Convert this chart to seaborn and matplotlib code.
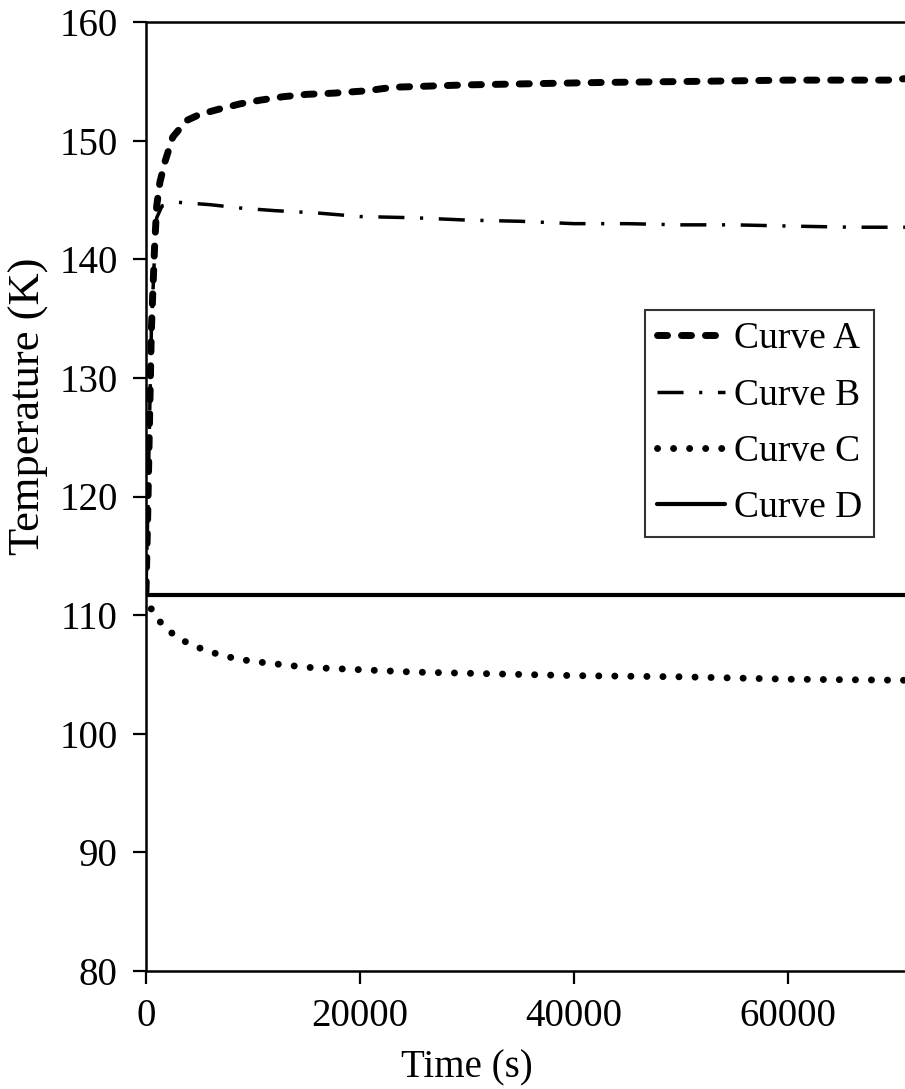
import matplotlib
matplotlib.use("Agg")
import matplotlib.pyplot as plt
import seaborn as sns
import numpy as np

# Temperature histories (time in s, temperature in K)
time_a = [0, 150, 300, 500, 800, 1000, 1300, 1800, 2500, 3800, 5000, 6600, 8800,
          10600, 12800, 15000, 17500, 20600, 23100, 30000, 42400, 51800, 60000, 69300, 72000]
temp_a = [112.0, 118.0, 125.0, 134.0, 141.0, 144.5, 146.5, 148.3, 150.3, 151.7, 152.2, 152.6, 153.1,
          153.4, 153.7, 153.9, 154.0, 154.2, 154.5, 154.7, 154.9, 155.0, 155.1, 155.1, 155.3]

time_b = [0, 150, 300, 500, 800, 1000, 1500, 3000, 6000, 9000, 12000, 16000, 20000,
          25000, 30000, 35000, 40000, 45000, 50000, 55000, 60000, 66000, 72000]
temp_b = [112.0, 118.0, 125.0, 134.0, 140.5, 143.5, 144.5, 144.8, 144.6, 144.3, 144.1, 143.9, 143.6,
          143.5, 143.3, 143.2, 143.0, 143.0, 142.9, 142.9, 142.8, 142.7, 142.7]

time_c = [0, 370, 1000, 1800, 3000, 4200, 5700, 7100, 8600, 10000, 12000, 15000, 20000,
          25000, 30000, 40000, 50000, 60000, 72000]
temp_c = [111.8, 110.7, 109.8, 108.9, 108.1, 107.5, 107.0, 106.6, 106.3, 106.1, 105.9, 105.6, 105.4,
          105.2, 105.1, 104.9, 104.8, 104.6, 104.5]

time_d = [0, 72000]
temp_d = [111.7, 111.7]

labels = ["Curve A", "Curve B", "Curve C", "Curve D"]
y_ticks = [80, 90, 100, 110, 120, 130, 140, 150, 160]
x_ticks = [0, 20000, 40000, 60000]

sns.set_style("ticks")
plt.rcParams["font.family"] = ["Liberation Serif", "DejaVu Serif"]
plt.rcParams["text.color"] = "black"
plt.rcParams["axes.labelcolor"] = "black"

W, H = 905, 1089
fig = plt.figure(figsize=(W / 100, H / 100), dpi=100)
x_max = 72000
px_per_unit = 214 / 20000
ax_w = x_max * px_per_unit
ax_h = 971 - 22
ax = fig.add_axes([146 / W, (H - 971) / H, ax_w / W, ax_h / H])

sns.lineplot(x=time_a, y=temp_a, ax=ax, color="black", lw=5.0, sort=True,
             linestyle=(0, (1.45, 2.0)), dash_capstyle="round", label=labels[0])
sns.lineplot(x=time_b, y=temp_b, ax=ax, color="black", lw=2.5, sort=True,
             linestyle=(0, (7.5, 4.5, 0.9, 4.5)), dash_capstyle="butt", label=labels[1])
sns.lineplot(x=time_c, y=temp_c, ax=ax, color="black", lw=5.0, sort=True,
             linestyle=(0, (0.01, 2.3)), dash_capstyle="round", label=labels[2])
sns.lineplot(x=time_d, y=temp_d, ax=ax, color="black", lw=3.0, sort=True,
             linestyle="-", label=labels[3])

ax.set_xlim(0, x_max)
ax.set_ylim(80, 160)
ax.set_xticks(x_ticks)
ax.set_yticks(y_ticks)
ax.set_xticklabels([str(v) for v in x_ticks])
ax.set_yticklabels([str(v) for v in y_ticks])

for side in ["left", "top", "bottom"]:
    ax.spines[side].set_linewidth(1.8)
    ax.spines[side].set_color("black")
ax.spines["right"].set_visible(False)

ax.tick_params(axis="both", direction="out", length=9.5, width=1.6, labelsize=28,
               colors="black", labelcolor="black")
ax.tick_params(axis="y", pad=11)
ax.tick_params(axis="x", pad=10)

ax.set_xlabel("Time (s)", fontsize=28, color="black")
ax.set_ylabel("Temperature (K)", fontsize=32, color="black")
ax.xaxis.set_label_coords((467 - 146) / ax_w, -(1068 - 971) / ax_h, transform=ax.transAxes)
ax.xaxis.label.set_va("center")
ax.yaxis.set_label_coords(-(146 - 29) / ax_w, (971 - 406) / ax_h, transform=ax.transAxes)
ax.yaxis.label.set_va("center")

leg = ax.legend(loc="upper left", bbox_to_anchor=(645 / W, (H - 310) / H),
                bbox_transform=fig.transFigure, fontsize=27, frameon=True,
                fancybox=False, edgecolor="black", handlelength=1.8,
                handletextpad=0.25, labelspacing=0.58, borderpad=0.32,
                borderaxespad=0)
leg.get_frame().set_linewidth(1.5)
for txt in leg.get_texts():
    txt.set_color("black")

fig.savefig("out.png", dpi=100)
